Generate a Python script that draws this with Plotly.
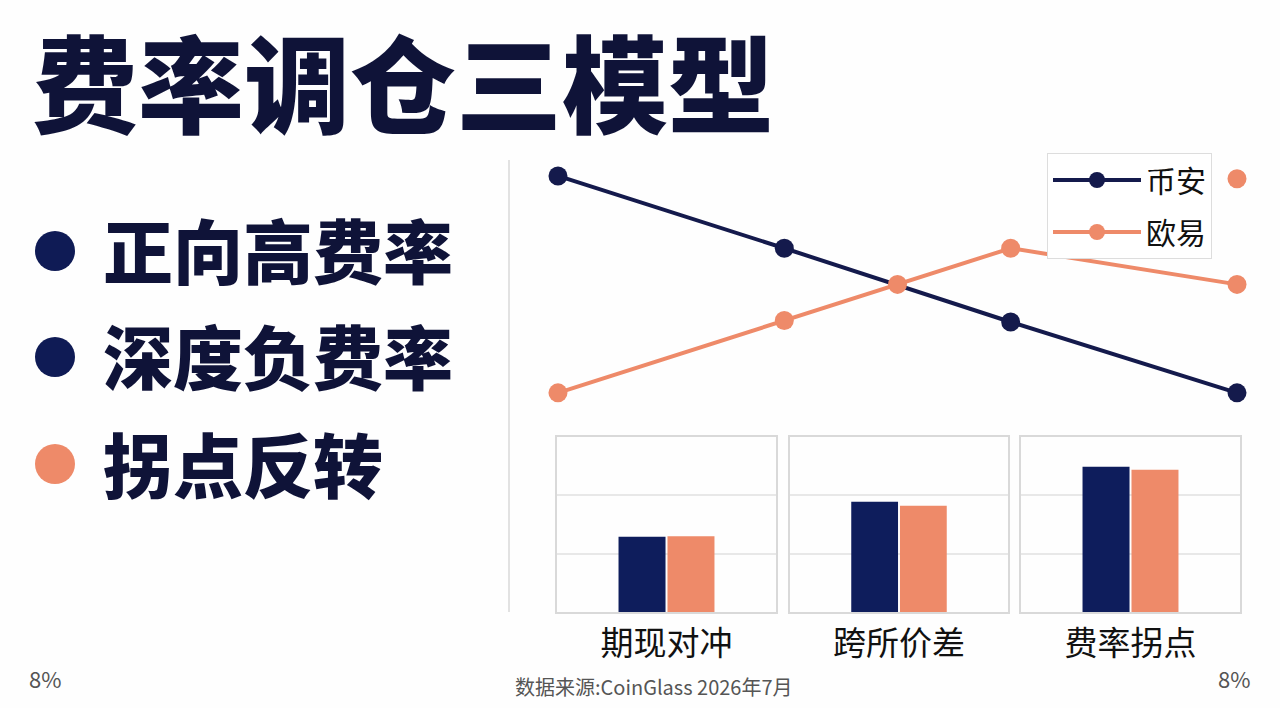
import plotly.graph_objects as go

W, H = 1280, 708
FONT = "Noto Sans CJK SC"

# ---------------- data ----------------
title_text = "费率调仓三模型"
bullet_labels = ["正向高费率", "深度负费率", "拐点反转"]
series_names = ["币安", "欧易"]

line_x_binance = [0, 1, 2, 3]
line_y_binance = [3.0, 2.0, 0.98, 0.0]
line_x_okx = [0, 1, 1.5, 2, 3]
line_y_okx = [0.0, 1.0, 1.5, 2.0, 1.5]
okx_extra_x = [3]
okx_extra_y = [2.96]

bar_categories = ["期现对冲", "跨所价差", "费率拐点"]
bar_binance = [1.29, 1.89, 2.49]
bar_okx = [1.30, 1.82, 2.44]

source_text = "数据来源:CoinGlass 2026年7月"
corner_text = "8%"

# ---------------- style ----------------
NAVY_LINE = "#141a4c"
NAVY_BAR = "#0e1d5c"
NAVY_TEXT = "#0f1338"
NAVY_DOT = "#0f1b55"
ORANGE = "#ee8a69"
BG = "#fefefe"


def px_x(v):
    return v / W


def px_y(v):
    return 1 - v / H


fig = go.Figure()

# line chart
fig.add_trace(go.Scatter(
    x=line_x_binance, y=line_y_binance, name=series_names[0],
    legendgroup="a",
    mode="lines+markers", line=dict(color=NAVY_LINE, width=4),
    marker=dict(color=NAVY_LINE, size=19), xaxis="x", yaxis="y",
))
fig.add_trace(go.Scatter(
    x=line_x_okx, y=line_y_okx, name=series_names[1],
    legendgroup="b",
    mode="lines+markers", line=dict(color=ORANGE, width=4),
    marker=dict(color=ORANGE, size=19), xaxis="x", yaxis="y",
))
fig.add_trace(go.Scatter(
    x=okx_extra_x, y=okx_extra_y, name=series_names[1], showlegend=False,
    legendgroup="b",
    mode="markers", marker=dict(color=ORANGE, size=19), xaxis="x", yaxis="y",
))

# bar panels
panel_x = [(557, 776), (790, 1008), (1021, 1240)]
for i, cat in enumerate(bar_categories):
    ax = str(i + 2)
    fig.add_trace(go.Bar(
        x=[cat], y=[bar_binance[i]], name=series_names[0], showlegend=False,
        legendgroup="a",
        marker=dict(color=NAVY_BAR, line=dict(width=0)),
        xaxis="x" + ax, yaxis="y" + ax,
    ))
    fig.add_trace(go.Bar(
        x=[cat], y=[bar_okx[i]], name=series_names[1], showlegend=False,
        legendgroup="b",
        marker=dict(color=ORANGE, line=dict(width=0)),
        xaxis="x" + ax, yaxis="y" + ax,
    ))

layout = dict(
    width=W, height=H,
    margin=dict(l=0, r=0, t=0, b=0),
    paper_bgcolor=BG, plot_bgcolor="rgba(0,0,0,0)",
    font=dict(family=FONT, color="#111111"),
    barmode="group", bargap=0.553, bargroupgap=0.04,
    showlegend=True,
    legend=dict(
        x=px_x(1047), y=px_y(153), xanchor="left", yanchor="top",
        bgcolor="#ffffff", bordercolor="#dddddd", borderwidth=1,
        font=dict(family=FONT, size=30, color="#111111"),
        itemwidth=88, traceorder="grouped", tracegroupgap=10,
    ),
    xaxis=dict(domain=[px_x(510), 1.0], range=[-0.212, 3.19],
               showgrid=False, zeroline=False, showticklabels=False,
               showline=False, fixedrange=True),
    yaxis=dict(domain=[px_y(612), px_y(160)], range=[-3.03, 3.22],
               showgrid=False, zeroline=False, showticklabels=False,
               showline=True, linecolor="#e2e2e2", linewidth=2,
               anchor="x", fixedrange=True),
)

for i, (x0, x1) in enumerate(panel_x):
    n = str(i + 2)
    layout["xaxis" + n] = dict(
        domain=[px_x(x0), px_x(x1)], anchor="y" + n,
        showgrid=False, zeroline=False, ticks="",
        showline=True, mirror=True, linecolor="#d9d9d9", linewidth=1.5,
        tickfont=dict(family=FONT, size=33, color="#111111"),
        ticklabelstandoff=2, fixedrange=True,
    )
    layout["yaxis" + n] = dict(
        domain=[px_y(612), px_y(437)], anchor="x" + n, range=[0, 3],
        dtick=1, showgrid=True, gridcolor="#e8e8e8", gridwidth=1.5,
        zeroline=False, showticklabels=False, ticks="",
        showline=True, mirror=True, linecolor="#d9d9d9", linewidth=1.5,
        fixedrange=True,
    )

fig.update_layout(**layout)

# title
fig.add_annotation(
    text=title_text, xref="paper", yref="paper",
    x=px_x(30), y=px_y(79), xanchor="left", yanchor="middle",
    showarrow=False,
    font=dict(family=FONT, size=106, color=NAVY_TEXT, weight=900),
)

# bullets
bullet_colors = [NAVY_DOT, NAVY_DOT, ORANGE]
bullet_y = [251, 357, 464]
for label, col, yy in zip(bullet_labels, bullet_colors, bullet_y):
    fig.add_shape(
        type="circle", xref="paper", yref="paper",
        xsizemode="pixel", ysizemode="pixel",
        xanchor=px_x(55), yanchor=px_y(yy),
        x0=-20, x1=20, y0=-20, y1=20,
        fillcolor=col, line=dict(width=0),
    )
    fig.add_annotation(
        text=label, xref="paper", yref="paper",
        x=px_x(101), y=px_y(yy - 2), xanchor="left", yanchor="middle",
        showarrow=False,
        font=dict(family=FONT, size=70, color=NAVY_TEXT, weight=900),
    )

# footer
fig.add_annotation(text=corner_text, xref="paper", yref="paper",
                   x=px_x(27), y=px_y(678), xanchor="left", yanchor="middle",
                   showarrow=False, font=dict(family=FONT, size=22, color="#555555"))
fig.add_annotation(text=corner_text, xref="paper", yref="paper",
                   x=px_x(1252), y=px_y(678), xanchor="right", yanchor="middle",
                   showarrow=False, font=dict(family=FONT, size=22, color="#555555"))
fig.add_annotation(text=source_text, xref="paper", yref="paper",
                   x=px_x(654), y=px_y(686), xanchor="center", yanchor="middle",
                   showarrow=False, font=dict(family=FONT, size=20, color="#555555"))

fig.write_html("out.html", config={"displayModeBar": False})
